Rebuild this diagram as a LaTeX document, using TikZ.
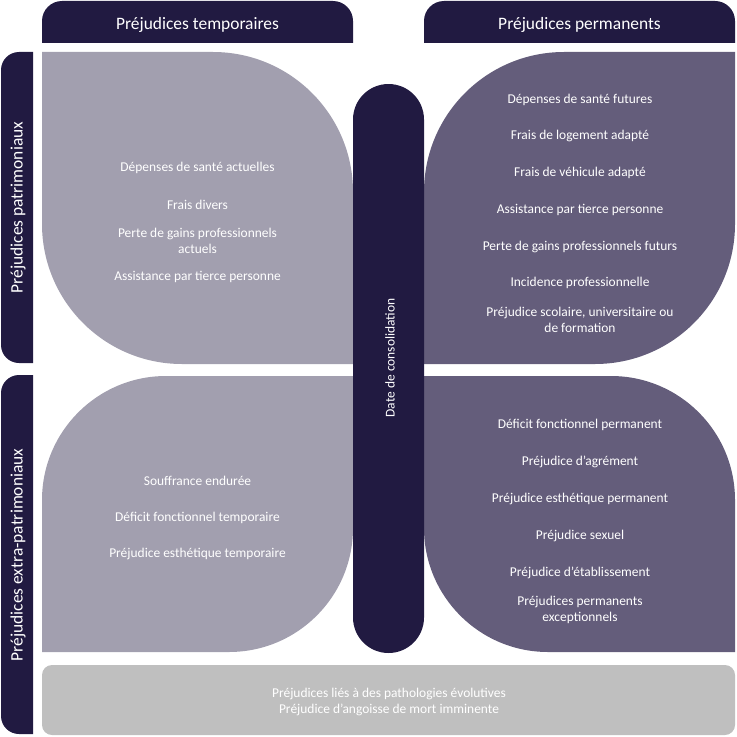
\documentclass[tikz,border=0pt]{standalone}
\usepackage{fontspec}
\setmainfont{Carlito}
\definecolor{navy}{RGB}{33,26,65}
\definecolor{petalL}{RGB}{162,159,175}
\definecolor{petalR}{RGB}{100,93,123}
\definecolor{barG}{RGB}{191,191,191}
\tikzset{
  lbl/.style={text=white, align=center, inner sep=0pt, font=\fontsize{13.5}{16}\selectfont},
  hdr/.style={text=white, inner sep=0pt, font=\fontsize{17.5}{21}\selectfont},
}
\begin{document}
\begin{tikzpicture}[x=1bp,y=-1bp]
\useasboundingbox (0,0) rectangle (737,737);
% headers
\fill[navy] (42,43) -- (42,21) arc[start angle=180,end angle=270,radius=20] -- (333,1) arc[start angle=270,end angle=360,radius=20] -- (353,43) -- cycle;
\fill[navy] (424,43) -- (424,21) arc[start angle=180,end angle=270,radius=20] -- (715,1) arc[start angle=270,end angle=360,radius=20] -- (735,43) -- cycle;
\node[hdr] (htemp) at (197.5,25) {Préjudices temporaires};
\node[hdr] (hperm) at (579.5,25) {Préjudices permanents};
% side bars
\fill[navy] (33,52) -- (19,52) arc[start angle=270,end angle=180,radius=18] -- (1,345) arc[start angle=180,end angle=90,radius=18] -- (33,363) -- cycle;
\fill[navy] (33,375) -- (19,375) arc[start angle=270,end angle=180,radius=18] -- (1,716) arc[start angle=180,end angle=90,radius=18] -- (33,734) -- cycle;
\node[hdr, rotate=90] (spat) at (18,207.5) {Préjudices patrimoniaux};
\node[hdr, rotate=90] (sextra) at (18,555) {Préjudices extra-patrimoniaux};
% petals
\fill[petalL] (42,52) -- (213,52) arc[start angle=-90,end angle=0,radius=140] -- (353,364) -- (182,364) arc[start angle=90,end angle=180,radius=140] -- cycle;
\fill[petalR] (735,52) -- (564,52) arc[start angle=-90,end angle=-180,radius=140] -- (424,364) -- (595,364) arc[start angle=90,end angle=0,radius=140] -- cycle;
\fill[petalL] (42,652) -- (42,500) arc[start angle=180,end angle=270,radius=124] -- (353,376) -- (353,528) arc[start angle=0,end angle=90,radius=124] -- cycle;
\fill[petalR] (424,376) -- (611,376) arc[start angle=-90,end angle=0,radius=124] -- (735,652) -- (548,652) arc[start angle=90,end angle=180,radius=124] -- cycle;
% centre bar
\fill[navy, rounded corners=35.5bp] (353,84) rectangle (424,653);
\node[lbl, rotate=90] (date) at (390,358) {Date de consolidation};
% bottom bar
\fill[barG, rounded corners=10bp] (42,665) rectangle (735,735);
\node[lbl] (evol) at (389,702) {Préjudices liés à des pathologies évolutives\\Préjudice d’angoisse de mort imminente};
% top-left texts
\node[lbl] (tl1) at (197.5,168) {Dépenses de santé actuelles};
\node[lbl] (tl2) at (197.5,205) {Frais divers};
\node[lbl] (tl3) at (197.5,241) {Perte de gains professionnels\\actuels};
\node[lbl] (tl4) at (197.5,277) {Assistance par tierce personne};
% top-right texts
\node[lbl] (tr1) at (580,100) {Dépenses de santé futures};
\node[lbl] (tr2) at (580,136) {Frais de logement adapté};
\node[lbl] (tr3) at (580,173) {Frais de véhicule adapté};
\node[lbl] (tr4) at (580,210) {Assistance par tierce personne};
\node[lbl] (tr5) at (580,247) {Perte de gains professionnels futurs};
\node[lbl] (tr6) at (580,283) {Incidence professionnelle};
\node[lbl] (tr7) at (580,320) {Préjudice scolaire, universitaire ou\\de formation};
% bottom-left texts
\node[lbl] (bl1) at (197.5,481) {Souffrance endurée};
\node[lbl] (bl2) at (197.5,518) {Déficit fonctionnel temporaire};
\node[lbl] (bl3) at (197.5,554) {Préjudice esthétique temporaire};
% bottom-right texts
\node[lbl] (br1) at (580,425) {Déficit fonctionnel permanent};
\node[lbl] (br2) at (580,462) {Préjudice d’agrément};
\node[lbl] (br3) at (580,499) {Préjudice esthétique permanent};
\node[lbl] (br4) at (580,536) {Préjudice sexuel};
\node[lbl] (br5) at (580,573) {Préjudice d’établissement};
\node[lbl] (br6) at (580,610) {Préjudices permanents\\exceptionnels};
\end{tikzpicture}
\end{document}
